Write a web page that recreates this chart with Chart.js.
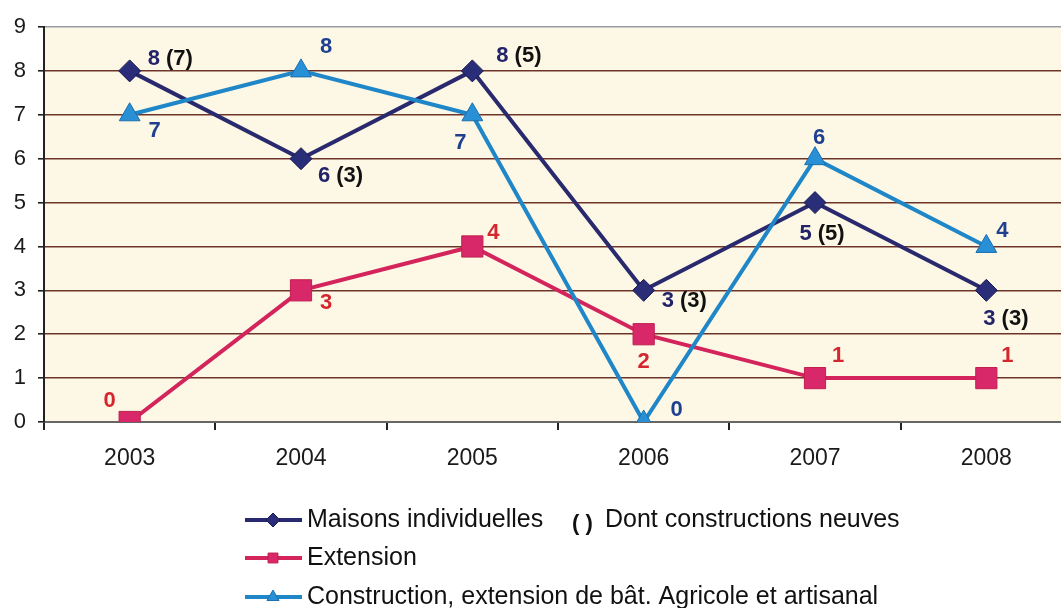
<!DOCTYPE html>
<html>
<head>
<meta charset="utf-8">
<script src="https://cdn.jsdelivr.net/npm/chart.js@4/dist/chart.umd.min.js"></script>
<style>
  html, body { margin: 0; padding: 0; background: #fff; overflow: hidden; }
  #wrap { width: 1075px; height: 608px; }
</style>
</head>
<body>
<div id="wrap"><canvas id="permitChart" width="1075" height="608"></canvas></div>
<script>
const years = ["2003", "2004", "2005", "2006", "2007", "2008"];
const maisons = [8, 6, 8, 3, 5, 3];
const maisonsNeuves = [7, 3, 5, 3, 5, 3];
const extension = [0, 3, 4, 2, 1, 1];
const agricole = [7, 8, 7, 0, 6, 4];

const FONT = "'Liberation Sans', Arial, sans-serif";

// cream plot background
const plotBg = {
  id: "plotBg",
  beforeDraw(chart) {
    const { ctx, chartArea: a } = chart;
    ctx.save();
    ctx.fillStyle = "#fdf8e6";
    ctx.fillRect(a.left, a.top, a.right - a.left, a.bottom - a.top);
    ctx.restore();
  },
};

// value labels next to each point
const pointLabels = {
  id: "pointLabels",
  afterDatasetsDraw(chart) {
    const ctx = chart.ctx;
    ctx.save();
    ctx.font = "bold 22px " + FONT;
    ctx.textBaseline = "middle";
    ctx.textAlign = "left";
    chart.data.datasets.forEach((ds, i) => {
      const meta = chart.getDatasetMeta(i);
      meta.data.forEach((pt, j) => {
        const [dx, dy, align] = ds.labelOffsets[j];
        const main = String(ds.data[j]);
        const extra = ds.extra ? "(" + ds.extra[j] + ")" : "";
        const gap = 6;
        const w1 = ctx.measureText(main).width;
        const w2 = extra ? ctx.measureText(extra).width + gap : 0;
        let x = pt.x + dx;
        if (align === "center") x -= (w1 + w2) / 2;
        ctx.fillStyle = ds.labelColor;
        ctx.fillText(main, x, pt.y + dy);
        if (extra) {
          ctx.fillStyle = "#111";
          ctx.fillText(extra, x + w1 + gap, pt.y + dy);
        }
      });
    });
    ctx.restore();
  },
};

// legend drawn under the plot
const bottomLegend = {
  id: "bottomLegend",
  afterDraw(chart) {
    const ctx = chart.ctx;
    const rows = [520, 558, 597];
    ctx.save();
    chart.data.datasets.forEach((ds) => {
      const y = rows[ds.legendRow];
      ctx.strokeStyle = ds.borderColor;
      ctx.lineWidth = 4;
      ctx.beginPath();
      ctx.moveTo(245, y);
      ctx.lineTo(302, y);
      ctx.stroke();
      ctx.fillStyle = ds.pointBackgroundColor;
      ctx.strokeStyle = ds.pointBorderColor;
      ctx.lineWidth = 1;
      Chart.helpers.drawPoint(ctx, { pointStyle: ds.pointStyle, radius: 7, borderWidth: 1 }, 273, y);
      ctx.fillStyle = "#111";
      ctx.font = "25px " + FONT;
      ctx.textBaseline = "middle";
      ctx.textAlign = "left";
      ctx.fillText(ds.label, 307, y);
    });
    ctx.font = "bold 22px " + FONT;
    ctx.fillText("( )", 572, 524);
    ctx.font = "25px " + FONT;
    ctx.fillText("Dont constructions neuves", 605, 520);
    ctx.restore();
  },
};

new Chart(document.getElementById("permitChart"), {
  type: "line",
  data: {
    labels: years,
    datasets: [
      {
        label: "Maisons individuelles",
        data: maisons,
        extra: maisonsNeuves,
        borderColor: "#29296d",
        pointBackgroundColor: "#2a2d78",
        pointBorderColor: "#1a1a50",
        pointStyle: "rectRot",
        pointRadius: 11,
        labelColor: "#23236a",
        legendRow: 0,
        order: 1,
        labelOffsets: [[18, -12], [17, 17], [24, -15], [18, 11], [7, 31, "center"], [-3, 29]],
      },
      {
        label: "Extension",
        data: extension,
        borderColor: "#d3245c",
        pointBackgroundColor: "#d8286a",
        pointBorderColor: "#c0204f",
        pointStyle: "rect",
        pointRadius: 15,
        labelColor: "#d4262e",
        legendRow: 1,
        order: 2,
        labelOffsets: [[-20, -21, "center"], [25, 13, "center"], [21, -14, "center"], [0, 28, "center"], [23, -22, "center"], [21, -22, "center"]],
      },
      {
        label: "Construction, extension de bât. Agricole et artisanal",
        data: agricole,
        borderColor: "#1f86c8",
        pointBackgroundColor: "#2a90d6",
        pointBorderColor: "#1b6fb0",
        pointStyle: "triangle",
        pointRadius: 12,
        labelColor: "#1f3f8f",
        legendRow: 2,
        order: 0,
        labelOffsets: [[25, 16, "center"], [25, -24, "center"], [-12, 28, "center"], [33, -12, "center"], [4, -21, "center"], [16, -16, "center"]],
      },
    ],
  },
  options: {
    responsive: false,
    animation: false,
    devicePixelRatio: 1,
    layout: { autoPadding: false, padding: { top: 27, right: 3, bottom: 126, left: 0 } },
    elements: {
      line: { borderWidth: 4, tension: 0 },
      point: { borderWidth: 1, hoverRadius: 12 },
    },
    plugins: {
      legend: { display: false },
      tooltip: { enabled: false },
    },
    scales: {
      x: {
        offset: true,
        grid: { drawOnChartArea: false, drawTicks: true, tickLength: 8, color: "#222", offset: true, lineWidth: 2 },
        border: { display: true, color: "#666", width: 2 },
        ticks: { font: { family: FONT, size: 23 }, color: "#1a1a1a", padding: 15 },
        afterFit(scale) {
          scale.height = 60;
          scale.paddingLeft = 0;
          scale.paddingRight = 0;
        },
      },
      y: {
        min: 0,
        max: 9,
        ticks: { stepSize: 1, font: { family: FONT, size: 22 }, color: "#1a1a1a", padding: 12 },
        grid: {
          color: (c) => (c.tick && c.tick.value === 9 ? "#9a9aaa" : "#6e3428"),
          lineWidth: 1.6,
          tickColor: "#222",
          tickLength: 6,
        },
        border: { display: true, color: "#222", width: 2 },
        afterFit(scale) { scale.width = 44; },
      },
    },
  },
  plugins: [plotBg, pointLabels, bottomLegend],
});
</script>
</body>
</html>
